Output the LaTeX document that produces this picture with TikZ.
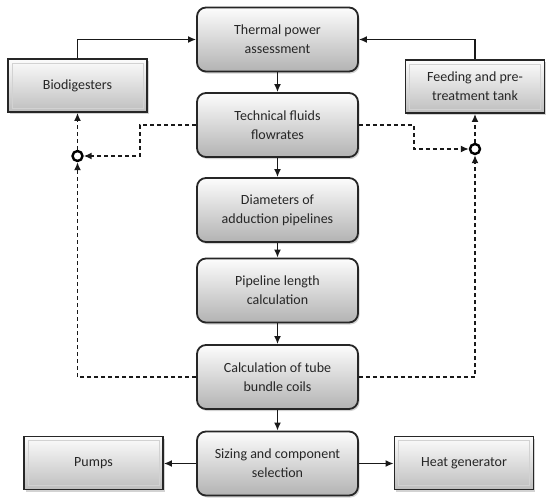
\documentclass[tikz,border=0pt]{standalone}
\usepackage{fontspec}
\setmainfont{Carlito}
\usepackage{tikz}
\usetikzlibrary{positioning, shapes, shadows, arrows.meta, calc}
\definecolor{boxtop}{rgb}{0.99, 0.99, 0.99}
\definecolor{boxbottom}{rgb}{0.70, 0.70, 0.70}
\definecolor{textgray}{rgb}{0.15, 0.15, 0.15}

\begin{document}
\begin{tikzpicture}[x=1pt, y=-1pt,
	every node/.style={font=\fontsize{14}{19}\selectfont, text=textgray, align=center},
	stage/.style={draw=black!85, line width=1.8pt, rounded corners=9pt, minimum width=161pt, minimum height=64pt, top color=boxtop, bottom color=boxbottom, drop shadow={opacity=0.35, shadow xshift=1.5pt, shadow yshift=-2pt}},
	unit/.style={draw=black!85, line width=1.8pt, minimum width=139pt, minimum height=53pt, top color=boxtop, bottom color=boxbottom!85!white, drop shadow={opacity=0.35, shadow xshift=1.5pt, shadow yshift=-2pt},
		path picture={\draw[gray!35, line width=0.6pt] ([shift={(4pt,-4pt)}]path picture bounding box.north west) rectangle ([shift={(-4pt,4pt)}]path picture bounding box.south east);}},
	flow/.style={-{Latex[length=8pt, width=7pt]}, line width=1.5pt, black!90},
	loop/.style={flow, dash pattern=on 4pt off 3pt},
	junction/.style={circle, draw=black, line width=2.4pt, fill=white, minimum size=10pt, inner sep=0pt}]
		\useasboundingbox (0,0) rectangle (550,501);
		\pgfmathsetmacro{\colx}{277.5}
		\node[stage] (thermal) at (\colx,39.5) {Thermal power\\assessment};
		\node[stage] (tech) at (\colx,125) {Technical fluids\\flowrates};
		\node[stage] (diam) at (\colx,210) {Diameters of\\adduction pipelines};
		\node[stage] (length) at (\colx,290.5) {Pipeline length\\calculation};
		\node[stage] (coils) at (\colx,377) {Calculation of tube\\bundle coils};
		\node[stage] (sizing) at (\colx,463.5) {Sizing and component\\selection};
		\node[unit] (bio) at (77.5,85.5) {Biodigesters};
		\node[unit] (feed) at (475,86.5) {Feeding and pre-\\treatment tank};
		\node[unit] (pumps) at (93.5,463) {Pumps};
		\node[unit] (heat) at (464,463) {Heat generator};
		\node[junction] (jl) at (77.5,156) {};
		\node[junction] (jr) at (475,149) {};
		\draw[flow] (thermal) -- (tech);
		\draw[flow] (tech) -- (diam);
		\draw[flow] (diam) -- (length);
		\draw[flow] (length) -- (coils);
		\draw[flow] (coils) -- (sizing);
		\draw[flow] (bio.north) |- (thermal.west);
		\draw[flow] (feed.north) |- (thermal.east);
		\draw[flow] (sizing.west) -- (pumps.east |- sizing.west);
		\draw[flow] (sizing.east) -- (heat.west |- sizing.east);
		\draw[loop] (tech.west) -- ++(-56,0) |- (jl);
		\draw[loop] (tech.east) -- ++(55,0) |- (jr);
		\draw[loop] (coils.west) -| (jl);
		\draw[loop] (coils.east) -| (jr);
		\draw[loop] (jl) -- (bio.south);
		\draw[loop] (jr) -- (feed.south);
		%%\draw[help lines] (0,0) grid[step=50] (550,501);
\end{tikzpicture}
\end{document}
